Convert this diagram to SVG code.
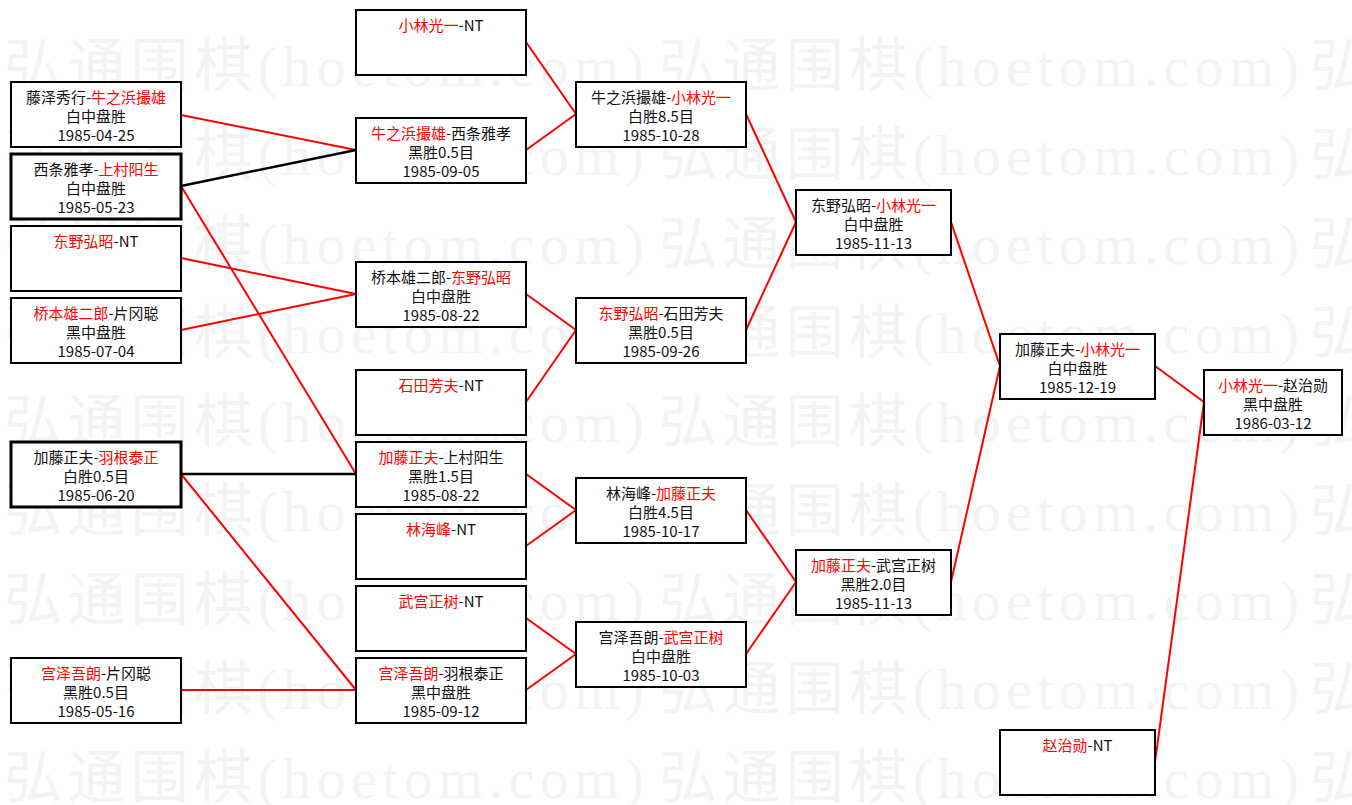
<svg xmlns="http://www.w3.org/2000/svg" width="1352" height="805" viewBox="0 0 1352 805">
<style>
.wm{font-family:"Liberation Serif","Noto Sans CJK SC",serif;font-size:58px;fill:#f3f3f3}
.box{fill:#ffffff;stroke:#000;stroke-width:2}
.thick{stroke-width:3}
.t{font-family:"Noto Sans CJK SC",sans-serif;font-size:15px;fill:#111;text-anchor:middle}
.r{fill:#ff0000}
.lr{stroke:#ff0000;stroke-width:2;fill:none}
.lb{stroke:#000;stroke-width:2.5;fill:none}
</style>
<defs>
<text id="wmt" class="wm" textLength="640" lengthAdjust="spacing">弘通围棋(hoetom.com)</text>
<text id="wmk" class="wm">弘</text>
</defs>
<rect width="1352" height="805" fill="#ffffff"/>
<g id="watermark">
<use href="#wmt" x="4" y="86"/><use href="#wmt" x="659" y="86"/><use href="#wmk" x="1310" y="86"/>
<use href="#wmt" x="4" y="175"/><use href="#wmt" x="659" y="175"/><use href="#wmk" x="1310" y="175"/>
<use href="#wmt" x="4" y="264"/><use href="#wmt" x="659" y="264"/><use href="#wmk" x="1310" y="264"/>
<use href="#wmt" x="4" y="353"/><use href="#wmt" x="659" y="353"/><use href="#wmk" x="1310" y="353"/>
<use href="#wmt" x="4" y="442"/><use href="#wmt" x="659" y="442"/><use href="#wmk" x="1310" y="442"/>
<use href="#wmt" x="4" y="531"/><use href="#wmt" x="659" y="531"/><use href="#wmk" x="1310" y="531"/>
<use href="#wmt" x="4" y="620"/><use href="#wmt" x="659" y="620"/><use href="#wmk" x="1310" y="620"/>
<use href="#wmt" x="4" y="709"/><use href="#wmt" x="659" y="709"/><use href="#wmk" x="1310" y="709"/>
<use href="#wmt" x="4" y="798"/><use href="#wmt" x="659" y="798"/><use href="#wmk" x="1310" y="798"/>
</g>
<g id="connectors">
<line class="lr" x1="181" y1="115" x2="356" y2="150"/>
<line class="lb" x1="181" y1="186" x2="356" y2="150"/>
<line class="lr" x1="181" y1="186" x2="356" y2="474"/>
<line class="lr" x1="181" y1="258" x2="356" y2="294"/>
<line class="lr" x1="181" y1="330" x2="356" y2="294"/>
<line class="lb" x1="181" y1="474" x2="356" y2="474"/>
<line class="lr" x1="181" y1="474" x2="356" y2="690"/>
<line class="lr" x1="181" y1="690" x2="356" y2="690"/>
<line class="lr" x1="526" y1="42" x2="576" y2="114"/>
<line class="lr" x1="526" y1="150" x2="576" y2="114"/>
<line class="lr" x1="526" y1="294" x2="576" y2="330"/>
<line class="lr" x1="526" y1="402" x2="576" y2="330"/>
<line class="lr" x1="526" y1="474" x2="576" y2="510"/>
<line class="lr" x1="526" y1="546" x2="576" y2="510"/>
<line class="lr" x1="526" y1="618" x2="576" y2="654"/>
<line class="lr" x1="526" y1="690" x2="576" y2="654"/>
<line class="lr" x1="746" y1="114" x2="796" y2="222"/>
<line class="lr" x1="746" y1="330" x2="796" y2="222"/>
<line class="lr" x1="746" y1="510" x2="796" y2="582"/>
<line class="lr" x1="746" y1="654" x2="796" y2="582"/>
<line class="lr" x1="951" y1="222" x2="1000" y2="366"/>
<line class="lr" x1="951" y1="582" x2="1000" y2="366"/>
<line class="lr" x1="1155" y1="366" x2="1204" y2="402"/>
<line class="lr" x1="1155" y1="762" x2="1204" y2="402"/>
</g>
<g id="A1"><rect class="box" x="11" y="82" width="170" height="65"/>
<text class="t" x="96" y="103">藤泽秀行-<tspan class="r">牛之浜撮雄</tspan></text>
<text class="t" x="96" y="122">白中盘胜</text><text class="t" x="96" y="141">1985-04-25</text></g>
<g id="A2"><rect class="box thick" x="11" y="154" width="170" height="65"/>
<text class="t" x="96" y="175">西条雅孝-<tspan class="r">上村阳生</tspan></text>
<text class="t" x="96" y="194">白中盘胜</text><text class="t" x="96" y="213">1985-05-23</text></g>
<g id="A3"><rect class="box" x="11" y="226" width="170" height="65"/>
<text class="t" x="96" y="247"><tspan class="r">东野弘昭</tspan>-NT</text></g>
<g id="A4"><rect class="box" x="11" y="298" width="170" height="65"/>
<text class="t" x="96" y="319"><tspan class="r">桥本雄二郎</tspan>-片冈聪</text>
<text class="t" x="96" y="338">黑中盘胜</text><text class="t" x="96" y="357">1985-07-04</text></g>
<g id="A5"><rect class="box thick" x="11" y="442" width="170" height="65"/>
<text class="t" x="96" y="463">加藤正夫-<tspan class="r">羽根泰正</tspan></text>
<text class="t" x="96" y="482">白胜0.5目</text><text class="t" x="96" y="501">1985-06-20</text></g>
<g id="A6"><rect class="box" x="11" y="658" width="170" height="65"/>
<text class="t" x="96" y="679"><tspan class="r">宫泽吾朗</tspan>-片冈聪</text>
<text class="t" x="96" y="698">黑胜0.5目</text><text class="t" x="96" y="717">1985-05-16</text></g>
<g id="B1"><rect class="box" x="356" y="10" width="170" height="65"/>
<text class="t" x="441" y="31"><tspan class="r">小林光一</tspan>-NT</text></g>
<g id="B2"><rect class="box" x="356" y="118" width="170" height="65"/>
<text class="t" x="441" y="139"><tspan class="r">牛之浜撮雄</tspan>-西条雅孝</text>
<text class="t" x="441" y="158">黑胜0.5目</text><text class="t" x="441" y="177">1985-09-05</text></g>
<g id="B3"><rect class="box" x="356" y="262" width="170" height="65"/>
<text class="t" x="441" y="283">桥本雄二郎-<tspan class="r">东野弘昭</tspan></text>
<text class="t" x="441" y="302">白中盘胜</text><text class="t" x="441" y="321">1985-08-22</text></g>
<g id="B4"><rect class="box" x="356" y="370" width="170" height="65"/>
<text class="t" x="441" y="391"><tspan class="r">石田芳夫</tspan>-NT</text></g>
<g id="B5"><rect class="box" x="356" y="442" width="170" height="65"/>
<text class="t" x="441" y="463"><tspan class="r">加藤正夫</tspan>-上村阳生</text>
<text class="t" x="441" y="482">黑胜1.5目</text><text class="t" x="441" y="501">1985-08-22</text></g>
<g id="B6"><rect class="box" x="356" y="514" width="170" height="65"/>
<text class="t" x="441" y="535"><tspan class="r">林海峰</tspan>-NT</text></g>
<g id="B7"><rect class="box" x="356" y="586" width="170" height="65"/>
<text class="t" x="441" y="607"><tspan class="r">武宫正树</tspan>-NT</text></g>
<g id="B8"><rect class="box" x="356" y="658" width="170" height="65"/>
<text class="t" x="441" y="679"><tspan class="r">宫泽吾朗</tspan>-羽根泰正</text>
<text class="t" x="441" y="698">黑中盘胜</text><text class="t" x="441" y="717">1985-09-12</text></g>
<g id="C1"><rect class="box" x="576" y="82" width="170" height="65"/>
<text class="t" x="661" y="103">牛之浜撮雄-<tspan class="r">小林光一</tspan></text>
<text class="t" x="661" y="122">白胜8.5目</text><text class="t" x="661" y="141">1985-10-28</text></g>
<g id="C2"><rect class="box" x="576" y="298" width="170" height="65"/>
<text class="t" x="661" y="319"><tspan class="r">东野弘昭</tspan>-石田芳夫</text>
<text class="t" x="661" y="338">黑胜0.5目</text><text class="t" x="661" y="357">1985-09-26</text></g>
<g id="C3"><rect class="box" x="576" y="478" width="170" height="65"/>
<text class="t" x="661" y="499">林海峰-<tspan class="r">加藤正夫</tspan></text>
<text class="t" x="661" y="518">白胜4.5目</text><text class="t" x="661" y="537">1985-10-17</text></g>
<g id="C4"><rect class="box" x="576" y="622" width="170" height="65"/>
<text class="t" x="661" y="643">宫泽吾朗-<tspan class="r">武宫正树</tspan></text>
<text class="t" x="661" y="662">白中盘胜</text><text class="t" x="661" y="681">1985-10-03</text></g>
<g id="D1"><rect class="box" x="796" y="190" width="155" height="65"/>
<text class="t" x="873.5" y="211">东野弘昭-<tspan class="r">小林光一</tspan></text>
<text class="t" x="873.5" y="230">白中盘胜</text><text class="t" x="873.5" y="249">1985-11-13</text></g>
<g id="D2"><rect class="box" x="796" y="550" width="155" height="65"/>
<text class="t" x="873.5" y="571"><tspan class="r">加藤正夫</tspan>-武宫正树</text>
<text class="t" x="873.5" y="590">黑胜2.0目</text><text class="t" x="873.5" y="609">1985-11-13</text></g>
<g id="E1"><rect class="box" x="1000" y="334" width="155" height="65"/>
<text class="t" x="1077.5" y="355">加藤正夫-<tspan class="r">小林光一</tspan></text>
<text class="t" x="1077.5" y="374">白中盘胜</text><text class="t" x="1077.5" y="393">1985-12-19</text></g>
<g id="E2"><rect class="box" x="1000" y="730" width="155" height="65"/>
<text class="t" x="1077.5" y="751"><tspan class="r">赵治勋</tspan>-NT</text></g>
<g id="F1"><rect class="box" x="1204" y="370" width="138" height="65"/>
<text class="t" x="1273" y="391"><tspan class="r">小林光一</tspan>-赵治勋</text>
<text class="t" x="1273" y="410">黑中盘胜</text><text class="t" x="1273" y="429">1986-03-12</text></g>
</svg>
